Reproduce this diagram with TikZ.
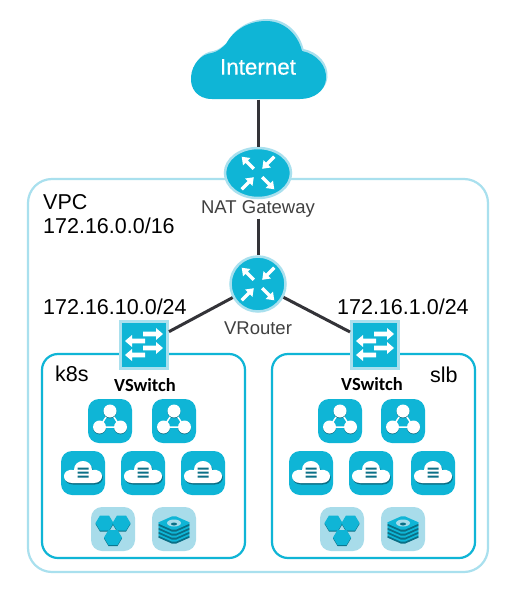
\documentclass[tikz,border=0pt]{standalone}
\usepackage{fontspec}
\setmainfont{Liberation Sans}
\newfontfamily\vswfont{Carlito}
\newfontfamily\netfont[FakeBold=0.4]{Liberation Sans}
\usetikzlibrary{shapes.geometric}
\definecolor{tealfill}{HTML}{0FB5D6}
\definecolor{tealhalo}{HTML}{A9E0EE}
\definecolor{tealpale}{HTML}{A8DCEA}
\definecolor{tealdark}{HTML}{0A6F86}
\definecolor{wirecolor}{HTML}{333338}
\tikzset{
    hub/.style = {ellipse, fill = tealfill, draw = tealhalo, line width = 2.5pt, minimum width = 66pt, minimum height = 50pt, inner sep = 0pt},
    roundhub/.style = {circle, fill = tealfill, draw = tealhalo, line width = 2.5pt, minimum size = 55pt, inner sep = 0pt},
    switchbox/.style = {rectangle, fill = tealfill, draw = tealhalo, line width = 3pt, minimum size = 47pt, inner sep = 0pt},
    tile/.style = {rectangle, rounded corners = 11pt, fill = tealfill, minimum size = 44pt, inner sep = 0pt},
    paletile/.style = {tile, fill = tealpale},
    wire/.style = {draw = wirecolor, line width = 3pt},
    caption/.style = {text = black!75, font = \fontsize{18.5}{20}\selectfont, inner sep = 1pt},
    addr/.style = {text = black, font = \fontsize{21.5}{24}\selectfont, inner sep = 0pt, anchor = west},
    vswlabel/.style = {text = black, font = \vswfont\bfseries\fontsize{18.5}{20}\selectfont, inner sep = 0pt},
    subnet/.style = {draw = tealfill, line width = 2.2pt, rounded corners = 16pt},
    pics/hubglyph/.style = {code = {
        % the arrows on one diagonal point out, those on the other point in
        \foreach \ang in {135, 315} {
            \fill [white, rotate = \ang]
                (6, -1.7) -- (16, -1.7) -- (16, -5.2) -- (23, 0) -- (16, 5.2) -- (16, 1.7) -- (6, 1.7) -- cycle;
        }
        \foreach \ang in {45, 225} {
            \fill [white, rotate = \ang]
                (23, -1.7) -- (13, -1.7) -- (13, -5.2) -- (6, 0) -- (13, 5.2) -- (13, 1.7) -- (23, 1.7) -- cycle;
        }
    }},
    pics/switchglyph/.style = {code = {
        \foreach \sy in {-11, 3} {
            \fill [white, shift = {(0, \sy)}] (-1, -2.4) -- (12, -2.4) -- (12, -6) -- (19, 0) -- (12, 6) -- (12, 2.4) -- (-1, 2.4) -- cycle;
        }
        \foreach \sy in {-4, 10} {
            \fill [white, shift = {(0, \sy)}] (1, -2.4) -- (-12, -2.4) -- (-12, -6) -- (-19, 0) -- (-12, 6) -- (-12, 2.4) -- (1, 2.4) -- cycle;
        }
    }},
    pics/meshglyph/.style = {code = {
        \draw [white, line width = 1.5pt] (0, -10) -- (-10.5, 6) -- (10.5, 6) -- cycle;
        \fill [tealdark] (0, -9.2) circle [radius = 6.5] (-10.5, 6.8) circle [radius = 6.5] (10.5, 6.8) circle [radius = 6.5];
        \fill [white] (0, -10) circle [radius = 6.5] (-10.5, 6) circle [radius = 6.5] (10.5, 6) circle [radius = 6.5];
    }},
    pics/cloudglyph/.style = {code = {
        \path [fill = tealdark, shift = {(0.8, 1.5)}]
            (-11, 10) .. controls (-22, 10) and (-22, -5) .. (-9, -3)
            .. controls (-9, -15) and (9, -15) .. (9, -3)
            .. controls (22, -5) and (22, 10) .. (11, 10) -- cycle;
        \path [fill = white]
            (-11, 10) .. controls (-22, 10) and (-22, -5) .. (-9, -3)
            .. controls (-9, -15) and (9, -15) .. (9, -3)
            .. controls (22, -5) and (22, 10) .. (11, 10) -- cycle;
        \fill [tealdark] (-5.5, -5.5) rectangle (5.5, -3.3) (-5.5, -1.5) rectangle (5.5, 0.7) (-5.5, 2.5) rectangle (5.5, 4.7);
    }},
    pics/hexglyph/.style = {code = {
        \foreach \hx/\hy in {-8.5/-6, 8.5/-6, 0/8.5} {
            \fill [tealdark, shift = {(\hx, \hy + 1)}] (-9, 0) -- (-4.5, -7.5) -- (4.5, -7.5) -- (9, 0) -- (4.5, 7.5) -- (-4.5, 7.5) -- cycle;
            \fill [tealfill, shift = {(\hx, \hy)}] (-9, 0) -- (-4.5, -7.5) -- (4.5, -7.5) -- (9, 0) -- (4.5, 7.5) -- (-4.5, 7.5) -- cycle;
        }
    }},
    pics/stackglyph/.style = {code = {
        \foreach \sy in {7, 3, -1, -5} {
            \fill [tealdark, rounded corners = 2pt] (-17, \sy + 1) -- (0, \sy + 8.5) -- (17, \sy + 1) -- (0, \sy - 6.5) -- cycle;
            \fill [tealfill, rounded corners = 2pt] (-17, \sy - 1) -- (0, \sy + 6.5) -- (17, \sy - 1) -- (0, \sy - 8.5) -- cycle;
        }
        \fill [tealpale] (0, -6) ellipse [x radius = 7, y radius = 3.5];
        \fill [tealdark] (0, -5) ellipse [x radius = 3, y radius = 1.5];
    }},
}
\begin{document}
\begin{tikzpicture}[x = 1pt, y = -1pt]
    \useasboundingbox (0, 0) rectangle (517, 594);
    \fill [white] (0, 0) rectangle (517, 594);

    % boxes
    \draw [draw = tealhalo, line width = 2.2pt, rounded corners = 24pt] (28, 179) rectangle (488, 572);
    \draw [subnet] (42, 354) rectangle (245, 558);
    \draw [subnet] (272, 354) rectangle (475, 558);

    % cloud
    \path [fill = tealhalo, shift = {(1.5, -2)}]
        (212, 99) .. controls (197, 99) and (190, 88) .. (191, 77)
        .. controls (192, 64) and (201, 54) .. (212, 53)
        .. controls (217, 52) and (222, 48) .. (226, 44)
        .. controls (234, 29) and (250, 21) .. (266, 21)
        .. controls (285, 21) and (298, 35) .. (302, 51)
        .. controls (317, 54) and (327, 66) .. (326, 79)
        .. controls (325, 91) and (314, 99) .. (300, 99) -- cycle;
    \path [fill = tealfill]
        (212, 99) .. controls (197, 99) and (190, 88) .. (191, 77)
        .. controls (192, 64) and (201, 54) .. (212, 53)
        .. controls (217, 52) and (222, 48) .. (226, 44)
        .. controls (234, 29) and (250, 21) .. (266, 21)
        .. controls (285, 21) and (298, 35) .. (302, 51)
        .. controls (317, 54) and (327, 66) .. (326, 79)
        .. controls (325, 91) and (314, 99) .. (300, 99) -- cycle;
    \node [minimum width = 136pt, minimum height = 81pt, inner sep = 0pt] (internet) at (258, 59) {};
    \node [text = white, font = \netfont\fontsize{22.4}{24}\selectfont, inner sep = 0pt] (internetlabel) at (258, 67) {Internet};

    % routers
    \node [hub] (nat) at (258, 173) {};
    \node [caption] (natlabel) at (258, 209) {NAT Gateway};
    \node [roundhub] (vrouter) at (258, 284) {};
    \node [caption] (vrouterlabel) at (258, 328) {VRouter};
    \pic at (nat) {hubglyph};
    \pic at (vrouter) {hubglyph};

    % switches
    \node [switchbox] (swleft) at (144, 345) {};
    \node [switchbox] (swright) at (375, 345) {};
    \pic at (swleft) {switchglyph};
    \pic at (swright) {switchglyph};

    % connectors
    \draw [wire] (internet.south) -- (nat);
    \draw [wire] (natlabel.south) -- (vrouter);
    \draw [wire] (vrouter) -- (swleft);
    \draw [wire] (vrouter) -- (swright);

    % texts
    \node [addr] (vpclabel) at (43, 202) {VPC};
    \node [addr] (vpcaddr) at (43, 226) {172.16.0.0/16};
    \node [addr] (leftaddr) at (43, 307) {172.16.10.0/24};
    \node [addr] (rightaddr) at (337, 307) {172.16.1.0/24};
    \node [addr] (k8slabel) at (55, 374) {k8s};
    \node [addr] (slblabel) at (430, 375) {slb};
    \node [vswlabel] (vswleft) at (145, 385) {VSwitch};
    \node [vswlabel] (vswright) at (372, 384) {VSwitch};

    % icons
    \foreach \tname/\tx/\ty in {a/110/421, b/174/421, c/340/421, d/403/421} {
        \node [tile] (mesh\tname) at (\tx, \ty) {};
        \pic at (mesh\tname) {meshglyph};
    }
    \foreach \tname/\tx/\ty in {a/83/473, b/143/473, c/203/473, d/311/473, e/371/473, f/433/473} {
        \node [tile] (srv\tname) at (\tx, \ty) {};
        \pic at (srv\tname) {cloudglyph};
    }
    \foreach \tname/\tx in {a/113, b/342} {
        \node [paletile] (hex\tname) at (\tx, 529) {};
        \pic at (hex\tname) {hexglyph};
    }
    \foreach \tname/\tx in {a/174, b/403} {
        \node [paletile] (stack\tname) at (\tx, 529) {};
        \pic at (stack\tname) {stackglyph};
    }
\end{tikzpicture}
\end{document}
